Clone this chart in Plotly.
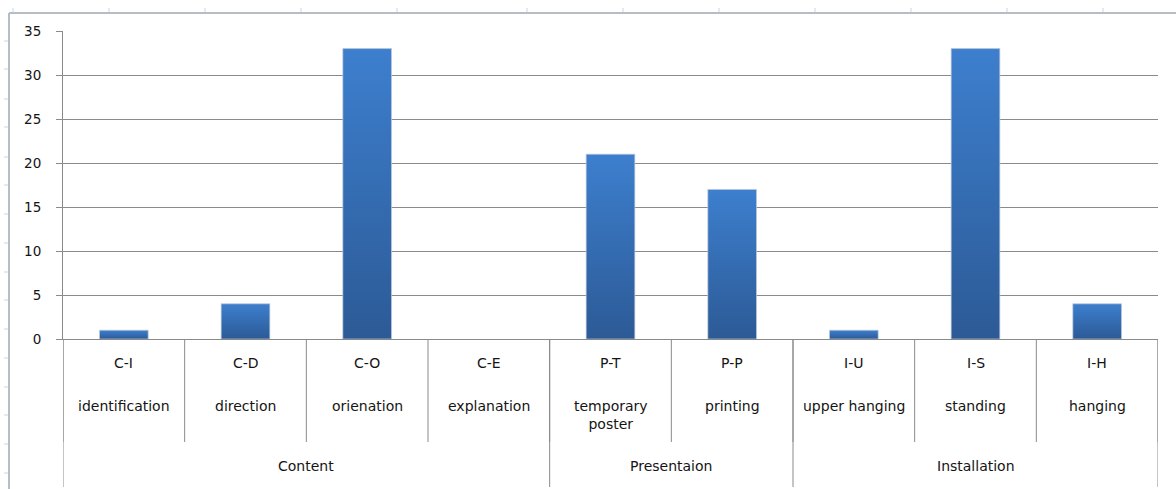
import plotly.graph_objects as go

# --- data -------------------------------------------------------------
codes = ["C-I", "C-D", "C-O", "C-E", "P-T", "P-P", "I-U", "I-S", "I-H"]
names = ["identification", "direction", "orienation", "explanation",
         "temporary<br>poster", "printing", "upper hanging", "standing", "hanging"]
groups = ["Content", "Presentaion", "Installation"]
group_sizes = [4, 2, 3]
values = [1, 4, 33, 0, 21, 17, 1, 33, 4]
y_ticks = [0, 5, 10, 15, 20, 25, 30, 35]

# --- geometry of the canvas ------------------------------------------
W, H = 1176, 489
ML, MR, MT, MB = 63, 18, 31, 150
PW, PH = W - ML - MR, H - MT - MB


def px_x(px):
    """pixel column -> paper x"""
    return (px - ML) / PW


def px_y(py):
    """pixel row -> paper y"""
    return (H - MB - py) / PH


FONT = "DejaVu Sans, Verdana, sans-serif"
TXT = "#141414"
AX = "#8a8a8a"
BAR_TOP = "#3d7fce"
BAR_BOT = "#2c5a96"
BAR_W = 0.4
LBL = 14

fig = go.Figure()

# bars: one filled polygon per category so each gets its own vertical gradient
for i, v in enumerate(values):
    if v <= 0:
        continue
    x0, x1 = i - BAR_W / 2, i + BAR_W / 2
    fig.add_trace(go.Scatter(
        x=[x0, x0, x1, x1, x0],
        y=[0, v, v, 0, 0],
        mode="lines",
        fill="toself",
        fillgradient=dict(type="vertical",
                          colorscale=[[0, BAR_BOT], [1, BAR_TOP]]),
        line=dict(color="rgba(190,200,215,0.7)", width=1),
        hoverinfo="skip",
        showlegend=False,
    ))

shapes = []
annotations = []

# category dividers (inner level) and group dividers (outer level)
for k in range(len(codes) + 1):
    shapes.append(dict(type="line", xref="x", yref="paper",
                       x0=k - 0.5, x1=k - 0.5, y0=0, y1=px_y(442),
                       line=dict(color=AX, width=1)))
edges = [0]
for s in group_sizes:
    edges.append(edges[-1] + s)
for e in edges:
    shapes.append(dict(type="line", xref="x", yref="paper",
                       x0=e - 0.5, x1=e - 0.5, y0=0, y1=px_y(487),
                       line=dict(color=AX, width=1)))

# category labels
for i, (c, n) in enumerate(zip(codes, names)):
    annotations.append(dict(x=i, y=px_y(363), xref="x", yref="paper",
                            text=c, showarrow=False, yanchor="middle",
                            font=dict(family=FONT, size=LBL, color=TXT)))
    annotations.append(dict(x=i, y=px_y(396), xref="x", yref="paper",
                            text=n, showarrow=False, yanchor="top",
                            font=dict(family=FONT, size=LBL, color=TXT)))

# group labels
for g, a, b in zip(groups, edges[:-1], edges[1:]):
    annotations.append(dict(x=(a + b - 1) / 2, y=px_y(466), xref="x", yref="paper",
                            text=g, showarrow=False, yanchor="middle",
                            font=dict(family=FONT, size=LBL, color=TXT)))

# surrounding sheet frame with its column / row marks
FRAME = "#b7bdc6"
MARK = "#cdd3e0"
shapes.append(dict(type="line", xref="paper", yref="paper",
                   x0=px_x(9), x1=px_x(W + 2), y0=px_y(13), y1=px_y(13),
                   line=dict(color=FRAME, width=2)))
shapes.append(dict(type="line", xref="paper", yref="paper",
                   x0=px_x(9), x1=px_x(9), y0=px_y(13), y1=px_y(H + 2),
                   line=dict(color=FRAME, width=2)))
for cx in [13, 109, 205, 301, 397, 527, 623, 719, 815, 911, 1007, 1103]:
    shapes.append(dict(type="line", xref="paper", yref="paper",
                       x0=px_x(cx), x1=px_x(cx), y0=px_y(8), y1=px_y(12),
                       line=dict(color=MARK, width=1)))
for ry in [41, 69, 99, 127, 157, 185, 214, 243, 272, 300, 329, 358, 387, 415, 444, 473]:
    shapes.append(dict(type="line", xref="paper", yref="paper",
                       x0=px_x(4), x1=px_x(8), y0=px_y(ry), y1=px_y(ry),
                       line=dict(color=MARK, width=1)))

fig.update_layout(
    width=W, height=H,
    margin=dict(l=ML, r=MR, t=MT, b=MB),
    paper_bgcolor="white",
    plot_bgcolor="white",
    showlegend=False,
    shapes=shapes,
    annotations=annotations,
    font=dict(family=FONT, size=12, color=TXT),
)
fig.update_xaxes(
    range=[-0.5, len(codes) - 0.5],
    showticklabels=False, showgrid=False, zeroline=False,
    showline=True, linecolor=AX, linewidth=1,
    fixedrange=True,
)
fig.update_yaxes(
    range=[0, 35], tickvals=y_ticks,
    showgrid=True, gridcolor=AX, gridwidth=1,
    zeroline=False, showline=True, linecolor=AX, linewidth=1,
    ticks="outside", ticklen=6, tickcolor=AX,
    ticklabelstandoff=12,
    tickfont=dict(family=FONT, size=13.5, color=TXT),
    fixedrange=True,
)

fig.write_html("out.html")
